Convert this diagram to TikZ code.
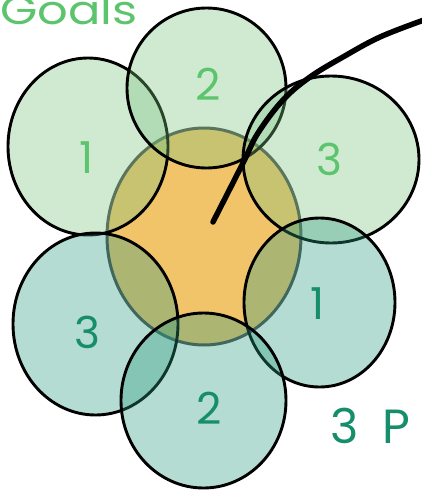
\documentclass[tikz,border=0pt]{standalone}
\usepackage{fontspec}
\setmainfont{Poppins}
\usetikzlibrary{shapes.geometric}
\definecolor{leafgreen}{RGB}{121,195,126}
\definecolor{leafteal}{RGB}{44,155,129}
\definecolor{coreorange}{RGB}{242,196,106}
\definecolor{inkgreen}{RGB}{92,196,108}
\definecolor{inkteal}{RGB}{22,142,108}
\begin{document}
\begin{tikzpicture}[
    x=1pt, y=-1pt,
    every node/.style={inner sep=0pt, outer sep=0pt},
    blob/.style={draw=black, line width=2.9pt, ellipse},
    upper/.style={blob, fill=leafgreen, fill opacity=0.35},
    lower/.style={blob, fill=leafteal, fill opacity=0.35},
    digit/.style={font=\fontsize{44}{44}\selectfont},
  ]
\useasboundingbox (0,0) rectangle (421,490);

% --- core first, the petals lie over it
\node[blob, fill=coreorange, draw=black!70, line width=3pt, minimum width=194pt, minimum height=217pt] (core) at (204,236.5) {};

% --- petals, in drawing order
\node[upper, minimum width=160pt, minimum height=177pt] (petalA) at (88,146.5) {};
\node[upper, minimum width=159pt, minimum height=160pt] (petalB) at (206.5,88) {};
\node[upper, minimum width=176pt, minimum height=167pt] (petalC) at (331,159.5) {};
\node[lower, minimum width=151pt, minimum height=169pt] (petalD) at (319.5,302.5) {};
\node[lower, minimum width=165pt, minimum height=182pt] (petalE) at (95.5,324) {};
\node[lower, minimum width=165pt, minimum height=175pt] (petalF) at (203.5,400.5) {};

% --- numbers
\node[digit, text=inkgreen] (numA) at (87,158) {1};
\node[digit, text=inkgreen] (numB) at (208,84) {2};
\node[digit, text=inkgreen] (numC) at (329,159) {3};
\node[digit, text=inkteal] (numD) at (318,304) {1};
\node[digit, text=inkteal] (numE) at (87,332) {3};
\node[digit, text=inkteal] (numF) at (209,408) {2};

% --- pen stroke
\draw[line width=5.5pt, line cap=round, line join=round]
  plot[smooth, tension=0.6] coordinates {(213,222) (243,163) (258,133) (283,100) (310,77) (343,57) (380,37) (424,20)};

% --- texts at the edges
\node[anchor=base west, text=inkgreen, font=\fontsize{40}{40}\selectfont, xscale=1.2] (title) at (0,24) {Goals};
\node[anchor=base west, text=inkteal, font=\fontsize{48}{48}\selectfont] (tail) at (330,443) {3\hspace{24pt}P};
\end{tikzpicture}
\end{document}
